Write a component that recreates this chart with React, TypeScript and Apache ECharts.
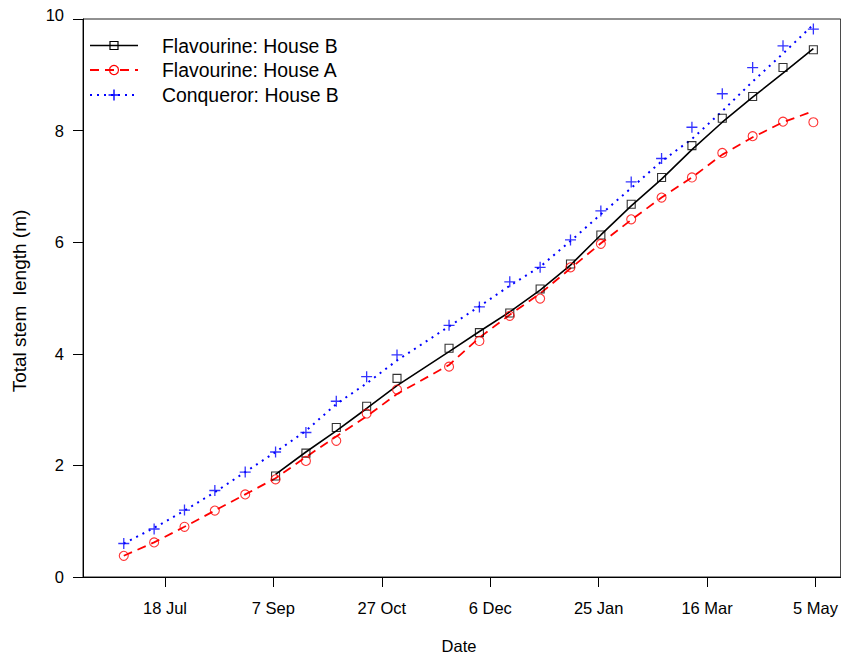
import React, { useEffect, useRef } from "react";
import * as echarts from "echarts";

// Days measured from 18 Jul (tick positions every 50 days)
const daysAll = [-19, -5, 9, 23, 37, 51, 65, 79, 93, 107, 131, 145, 159, 173, 187, 201, 215, 229, 243, 257, 271, 285, 299];
const daysHouseB = [51, 65, 79, 93, 107, 131, 145, 159, 173, 187, 201, 215, 229, 243, 257, 271, 285, 299];

const tickDays = [0, 50, 100, 150, 200, 250, 300];
const tickLabels = ["18 Jul", "7 Sep", "27 Oct", "6 Dec", "25 Jan", "16 Mar", "5 May"];

// Observed values (m)
const flavBObs = [1.81, 2.22, 2.68, 3.06, 3.56, 4.1, 4.38, 4.73, 5.16, 5.61, 6.13, 6.68, 7.16, 7.73, 8.22, 8.61, 9.13, 9.45];
const flavAObs = [0.38, 0.62, 0.9, 1.19, 1.48, 1.75, 2.08, 2.44, 2.93, 3.36, 3.77, 4.23, 4.68, 4.99, 5.55, 5.97, 6.41, 6.8, 7.16, 7.6, 7.9, 8.16, 8.15];
const conqObs = [0.6, 0.86, 1.2, 1.55, 1.88, 2.24, 2.59, 3.15, 3.59, 3.98, 4.51, 4.84, 5.29, 5.55, 6.04, 6.56, 7.08, 7.5, 8.06, 8.66, 9.13, 9.52, 9.82];

// Fitted curves (m)
const flavBFit = [1.84, 2.24, 2.62, 3.02, 3.43, 4.04, 4.4, 4.75, 5.14, 5.59, 6.13, 6.65, 7.13, 7.66, 8.15, 8.6, 9.03, 9.47];
const flavAFit = [0.38, 0.62, 0.9, 1.19, 1.48, 1.77, 2.15, 2.52, 2.88, 3.28, 3.8, 4.29, 4.7, 5.08, 5.53, 5.98, 6.4, 6.8, 7.16, 7.57, 7.88, 8.15, 8.35];
const conqFit = [0.6, 0.88, 1.19, 1.52, 1.88, 2.24, 2.62, 3.1, 3.47, 3.88, 4.49, 4.85, 5.22, 5.56, 6.02, 6.5, 6.97, 7.45, 7.85, 8.35, 8.88, 9.38, 9.9];

const FONT = "'Liberation Sans', Arial, Helvetica, sans-serif";
const PLUS = "path://M0,5L10,5M5,0L5,10";

const pair = (xs: number[], ys: number[]) => xs.map((x, i) => [x, ys[i]]);

export default function App() {
  const ref = useRef<HTMLDivElement>(null);
  useEffect(() => {
    if (!ref.current) return;
    const chart = echarts.init(ref.current, undefined, { renderer: "svg" });
    const legendRows = [
      { y: 45.5, label: "Flavourine: House B" },
      { y: 70, label: "Flavourine: House A" },
      { y: 95, label: "Conqueror: House B" },
    ];
    chart.setOption({
      animation: false,
      backgroundColor: "#fff",
      grid: { left: 83, right: -3, top: 19, bottom: 79, show: true, borderColor: "#222", borderWidth: 1 },
      xAxis: {
        type: "value",
        min: -37.8,
        max: 311.6,
        splitLine: { show: false },
        axisLine: { show: true, onZero: false, lineStyle: { color: "#000", width: 1 } },
        axisTick: { show: true, length: 10, customValues: tickDays, lineStyle: { color: "#000" } },
        axisLabel: {
          customValues: tickDays,
          margin: 22,
          fontSize: 16.5,
          fontFamily: FONT,
          color: "#000",
          formatter: (v: number) => tickLabels[tickDays.indexOf(Math.round(v))] ?? "",
        },
      },
      yAxis: {
        type: "value",
        min: 0,
        max: 10,
        interval: 2,
        splitLine: { show: false },
        axisLine: { show: true, onZero: false, lineStyle: { color: "#000", width: 1 } },
        axisTick: { show: true, length: 10, lineStyle: { color: "#000" } },
        axisLabel: {
          margin: 19,
          fontSize: 16.5,
          fontFamily: FONT,
          color: "#000",
          formatter: (v: number) => (v === 10 ? "{t|10}" : String(v)),
          rich: { t: { fontSize: 16.5, fontFamily: FONT, color: "#000", padding: [0, 0, 8, 0] } },
        },
      },
      series: [
        {
          type: "line",
          data: pair(daysHouseB, flavBFit),
          showSymbol: false,
          symbol: "none",
          lineStyle: { color: "#000", width: 1.6, type: "solid" },
          z: 3,
        },
        {
          type: "line",
          data: pair(daysAll, flavAFit),
          showSymbol: false,
          symbol: "none",
          lineStyle: { color: "#ff0000", width: 1.8, type: [9, 6] },
          z: 3,
        },
        {
          type: "line",
          data: pair(daysAll, conqFit),
          showSymbol: false,
          symbol: "none",
          lineStyle: { color: "#0000ff", width: 2, type: [2, 5] },
          z: 3,
        },
        {
          type: "scatter",
          data: pair(daysHouseB, flavBObs),
          symbol: "rect",
          symbolSize: 8,
          itemStyle: { color: "rgba(0,0,0,0)", borderColor: "#000", borderWidth: 1.1 },
          z: 4,
        },
        {
          type: "scatter",
          data: pair(daysAll, flavAObs),
          symbol: "circle",
          symbolSize: 9,
          itemStyle: { color: "rgba(0,0,0,0)", borderColor: "#ff0000", borderWidth: 1.1 },
          z: 4,
        },
        {
          type: "scatter",
          data: pair(daysAll, conqObs),
          symbol: PLUS,
          symbolSize: 11,
          itemStyle: { color: "rgba(0,0,0,0)", borderColor: "#0000ff", borderWidth: 1.3 },
          z: 4,
        },
      ],
      graphic: [
        // legend keys
        { type: "line", shape: { x1: 90, y1: legendRows[0].y, x2: 138, y2: legendRows[0].y }, style: { stroke: "#000", lineWidth: 1.6 } },
        { type: "rect", shape: { x: 110, y: legendRows[0].y - 4, width: 8, height: 8 }, style: { fill: "none", stroke: "#000", lineWidth: 1.2 } },
        { type: "line", shape: { x1: 90, y1: legendRows[1].y, x2: 138, y2: legendRows[1].y }, style: { stroke: "#ff0000", lineWidth: 1.8, lineDash: [9, 6] } },
        { type: "circle", shape: { cx: 114, cy: legendRows[1].y, r: 4.5 }, style: { fill: "none", stroke: "#ff0000", lineWidth: 1.2 } },
        { type: "line", shape: { x1: 90, y1: legendRows[2].y, x2: 138, y2: legendRows[2].y }, style: { stroke: "#0000ff", lineWidth: 2, lineDash: [2, 5] } },
        { type: "line", shape: { x1: 108.5, y1: legendRows[2].y, x2: 119.5, y2: legendRows[2].y }, style: { stroke: "#0000ff", lineWidth: 1.4 } },
        { type: "line", shape: { x1: 114, y1: legendRows[2].y - 5.5, x2: 114, y2: legendRows[2].y + 5.5 }, style: { stroke: "#0000ff", lineWidth: 1.4 } },
        ...legendRows.map((r) => ({
          type: "text",
          x: 162,
          y: r.y,
          style: { text: r.label, fontSize: 19.4, fontFamily: FONT, fill: "#000", verticalAlign: "middle", align: "left" },
        })),
        {
          type: "text",
          x: 459,
          y: 646,
          style: { text: "Date", fontSize: 16.5, fontFamily: FONT, fill: "#000", align: "center", verticalAlign: "middle" },
        },
        {
          type: "text",
          x: 19,
          y: 301,
          rotation: Math.PI / 2,
          style: { text: "Total stem  length (m)", fontSize: 19, fontFamily: FONT, fill: "#000", align: "center", verticalAlign: "middle" },
        },
      ],
    });
    return () => chart.dispose();
  }, []);
  return <div ref={ref} style={{ width: 841, height: 656, position: "absolute", left: 0, top: 0 }} />;
}
